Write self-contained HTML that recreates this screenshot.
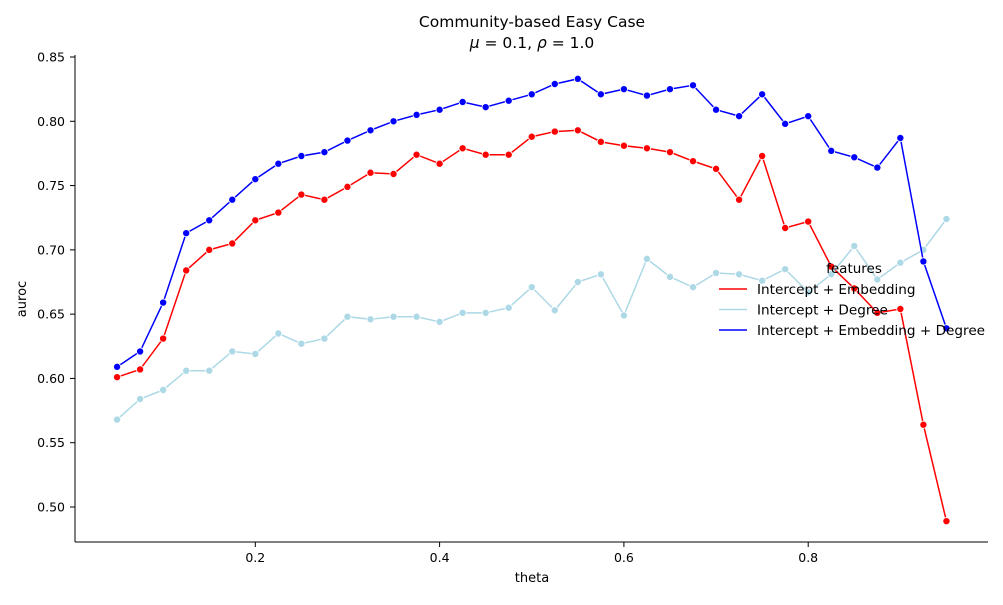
<!DOCTYPE html>
<html><head><meta charset="utf-8"><style>
body{margin:0;background:#fff}
svg{font-family:"DejaVu Sans","Liberation Sans",sans-serif}
</style></head><body>
<svg id="chart" width="1003" height="600">
<text x="532" y="27" text-anchor="middle" font-size="15.5">Community-based Easy Case</text>
<text x="532" y="48" text-anchor="middle" font-size="15.5"><tspan font-style="italic">μ</tspan> = 0.1, <tspan font-style="italic">ρ</tspan> = 1.0</text>
<g id="axes"></g>
<g id="series"></g>
<text x="532" y="582" text-anchor="middle" font-size="13">theta</text>
<text x="0" y="0" transform="translate(26,299) rotate(-90)" text-anchor="middle" font-size="13">auroc</text>
<g id="legend"></g>
</svg>
<script>
const thetas=[];for(let i=0;i<37;i++)thetas.push(+(0.05+0.025*i).toFixed(3));
const embedding=[0.601,0.607,0.631,0.684,0.700,0.705,0.723,0.729,0.743,0.739,0.749,0.760,0.759,0.774,0.767,0.779,0.774,0.774,0.788,0.792,0.793,0.784,0.781,0.779,0.776,0.769,0.763,0.739,0.773,0.717,0.722,0.687,0.670,0.651,0.654,0.564,0.489];
const degree=[0.568,0.584,0.591,0.606,0.606,0.621,0.619,0.635,0.627,0.631,0.648,0.646,0.648,0.648,0.644,0.651,0.651,0.655,0.671,0.653,0.675,0.681,0.649,0.693,0.679,0.671,0.682,0.681,0.676,0.685,0.667,0.681,0.703,0.677,0.690,0.700,0.724];
const both=[0.609,0.621,0.659,0.713,0.723,0.739,0.755,0.767,0.773,0.776,0.785,0.793,0.800,0.805,0.809,0.815,0.811,0.816,0.821,0.829,0.833,0.821,0.825,0.820,0.825,0.828,0.809,0.804,0.821,0.798,0.804,0.777,0.772,0.764,0.787,0.691,0.639];
const xTicks=[0.2,0.4,0.6,0.8];
const yTicks=[0.50,0.55,0.60,0.65,0.70,0.75,0.80,0.85];
const seriesNames=["Intercept + Embedding","Intercept + Degree","Intercept + Embedding + Degree"];
const colors=["#ff0000","#add8e6","#0000ff"];
const X=v=>71+921.5*v, Y=v=>57+(0.85-v)*1285.7;
const NS="http://www.w3.org/2000/svg";
function mk(t,a,p){const e=document.createElementNS(NS,t);for(const k in a)e.setAttribute(k,a[k]);p.appendChild(e);return e;}
const ax=document.getElementById('axes');
const ys=mk('line',{x1:75,y1:55,x2:75,y2:542,stroke:'#000','stroke-width':1},ax);


const xs=mk('line',{x1:75,y1:542,x2:988,y2:542,stroke:'#000','stroke-width':1},ax);


xTicks.forEach(t=>{mk('line',{x1:X(t),x2:X(t),y1:542,y2:547,stroke:'#000'},ax);
const tx=mk('text',{x:X(t),y:562,'text-anchor':'middle','font-size':12.5},ax);tx.textContent=t.toFixed(1);

});
yTicks.forEach(t=>{mk('line',{x1:70,x2:75,y1:Y(t),y2:Y(t),stroke:'#000'},ax);
const tx=mk('text',{x:65,y:Y(t)+4.5,'text-anchor':'end','font-size':12.5},ax);tx.textContent=t.toFixed(2);

});
const sg=document.getElementById('series');
[embedding,degree,both].forEach((d,i)=>{
const g=mk('g',{},sg);


mk('polyline',{points:d.map((v,j)=>X(thetas[j])+','+Y(v)).join(' '),fill:'none',stroke:colors[i],'stroke-width':1.5},g);
d.forEach((v,j)=>{const c=mk('circle',{cx:X(thetas[j]),cy:Y(v),r:3.6,fill:colors[i],stroke:'#fff','stroke-width':0.8},g);

});
});
const lg=document.getElementById('legend');
const lt=mk('text',{x:854,y:273,'text-anchor':'middle','font-size':13.5},lg);lt.textContent='features';


seriesNames.forEach((n,i)=>{const y=289+20.5*i;
mk('line',{x1:719,x2:747,y1:y,y2:y,stroke:colors[i],'stroke-width':1.5},lg);
const t=mk('text',{x:757,y:y+5,'font-size':13.6},lg);t.textContent=n;

});
</script>
</body></html>
